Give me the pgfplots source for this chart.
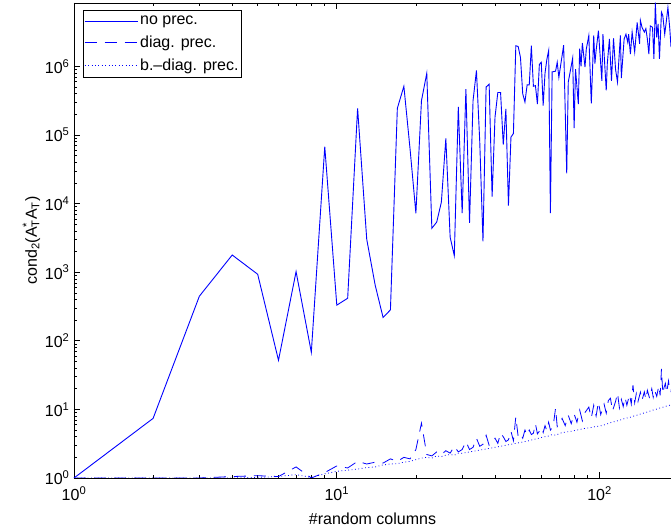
\documentclass[border=0pt]{standalone}
\usepackage{fontspec}
\setmainfont{Liberation Sans}
\usepackage{pgfplots}
\pgfplotsset{compat=1.18}
\newcommand{\fs}{\fontsize{16}{19}\selectfont}
\begin{document}
\begin{tikzpicture}
\begin{axis}[
  scale only axis, width=597pt, height=475pt,
  xmode=log, ymode=log,
  xmin=1, xmax=187, ymin=1, ymax=8.4e6,
  axis x line*=box, axis y line*=left,
  axis line style={line width=0.9pt, black},
  tick align=inside,
  major tick length=6pt, minor tick length=3pt,
  every tick/.style={black, line width=0.6pt},
  xtick={1,10,100},
  xticklabels={10\textsuperscript{0},10\textsuperscript{1},10\textsuperscript{2}},
  ytick={1,10,100,1000,10000,100000,1000000},
  yticklabels={10\textsuperscript{0},10\textsuperscript{1},10\textsuperscript{2},10\textsuperscript{3},10\textsuperscript{4},10\textsuperscript{5},10\textsuperscript{6}},
  tick label style={font=\fs},
  xticklabel style={yshift=-5pt},
  yticklabel style={xshift=-1pt},
  label style={font=\fs},
  xlabel style={yshift=-5pt},
  ylabel style={yshift=-2pt},
  xlabel={\#random columns},
  ylabel={cond\textsubscript{2}(A\rlap{\textsuperscript{*}}\textsubscript{T}A\textsubscript{T})},
  legend style={at={(0.015,0.985)}, anchor=north west, draw=black, line width=0.6pt, fill=white, font=\fs, inner xsep=1pt, inner ysep=3.5pt, row sep=6pt},
  legend cell align=left,
  legend image code/.code={\draw[#1] (10pt,0pt) -- (63pt,0pt);},
]
\addplot[blue, line width=0.9pt] coordinates {
(1,1) (2,7.4) (3,447) (4,1780) (5,933) (6,52) (7,1020) (8,68) (9,67600) (10,331)
(11,417) (12,245000) (13,3020) (14,646) (15,219) (16,282) (17,245000) (18,513000) (19,63000) (20,7240)
(21,316000) (22,794000) (23,4370) (24,5370) (25,10500) (26,89100) (27,3240) (28,1740) (29,257000) (30,7240)
(31,468000) (32,5250) (33,316000) (34,871000) (35,79400) (36,2820) (37,501000) (38,550000) (39,12600) (40,182000)
(41,417000) (42,417000) (43,72400) (44,240000) (45,9330) (46,93300) (47,105000) (48,2.0e6) (49,1.95e6) (50,1.35e6)
(51,398000) (52,302000) (53,537000) (54,537000) (55,2.0e6) (56,513000) (57,525000) (58,282000) (59,1.07e6) (60,1.15e6)
(61,269000) (62,794000) (63,1.26e6) (64,1.70e6) (65,7240) (66,832000) (68,851000) (69,1.15e6) (70,692000) (73,2.04e6)
(75,27500) (76,589000) (79,1.32e6) (80,126000) (81,912000) (83,282000) (84,1.82e6) (85,1.0e6) (86,2.19e6) (88,977000)
(89,1.78e6) (91,2.82e6) (93,288000) (95,2.82e6) (96,1.10e6) (97,1.70e6) (99,3.31e6) (102,617000) (103,2.95e6) (106,447000)
(107,1.10e6) (109,2.51e6) (111,617000) (113,2.57e6) (115,912000) (117,589000) (120,2.82e6) (121,676000) (124,2.51e6) (126,2.95e6)
(128,2.24e6) (129,2.95e6) (131,1.51e6) (133,3.16e6) (136,1.62e6) (139,4.37e6) (142,2.14e6) (143,4.68e6) (145,3.72e6) (148,3.16e6)
(150,3.55e6) (152,2.51e6) (154,1.51e6) (156,3.89e6) (159,3.72e6) (161,1.29e6) (163,8.5e6) (165,2.63e6) (167,4.17e6) (169,1.29e6)
(172,6.17e6) (174,5.50e6) (177,2.95e6) (179,4.17e6) (182,7.24e6) (185,3.55e6) (187,1.91e6) (190,4.0e6)
};
\addlegendentry{no prec.}
\addplot[blue, line width=0.8pt, dash pattern=on 12pt off 8pt] coordinates {
(1,1) (2,1) (3,1) (4,1.05) (5,1.08) (6,1.05) (7,1.45) (8,1.0) (9,1.2) (10,1.5)
(11,1.4) (12,1.75) (13,1.6) (14,1.7) (15,1.65) (16,1.9) (17,1.75) (18,2.0) (19,1.9) (20,2.6)
(21,6.3) (22,2.2) (23,2.1) (24,2.4) (25,2.2) (26,2.5) (27,2.3) (28,2.9) (29,2.4) (30,2.6)
(31,3.4) (32,2.6) (33,2.8) (34,3.8) (35,2.9) (36,3.1) (37,4.2) (38,3.0) (39,3.3) (40,3.8)
(41,3.2) (42,4.5) (43,4.0) (44,3.4) (45,3.6) (46,4.8) (47,3.5) (48,7.8) (49,4.0) (50,4.4)
(51,3.8) (52,5.0) (53,4.2) (54,5.0) (55,4.3) (56,4.5) (57,6.2) (58,4.4) (59,4.8) (60,5.4)
(61,4.6) (62,5.8) (63,4.9) (64,6.5) (65,5.0) (66,5.4) (67,6.8) (68,10.4) (69,5.6) (70,6.0)
(72,7.4) (74,5.8) (76,8.2) (78,6.2) (80,8.6) (82,6.5) (84,9.8) (86,6.8) (88,9.0) (91,10.8)
(93,7.5) (95,11.5) (97,8.0) (99,12.8) (101,8.4) (104,12.0) (106,8.8) (108,13.5) (110,14.5) (112,9.5)
(115,13.0) (117,17.3) (119,10.5) (121,14.0) (123,11.0) (125,15.0) (127,11.5) (130,16.5) (132,12.0) (134,22.5)
(136,12.5) (138,17.0) (140,13.0) (143,17.8) (145,13.5) (148,18.0) (150,14.0) (152,19.0) (155,14.5) (158,20.0)
(160,15.0) (162,19.0) (165,15.5) (168,22.0) (170,16.0) (172,39.0) (174,17.0) (176,21.0) (178,24.0) (180,17.5)
(183,26.0) (185,18.0) (187,18.0) (190,28.0)
};
\addlegendentry{diag. prec.}
\addplot[blue, line width=0.8pt, dash pattern=on 0.8pt off 2.6pt] coordinates {
(1,1) (2,1) (3,1) (4,1) (5,1.02) (6,1.05) (7,1.12) (8,1.02) (9,1.15) (10,1.25)
(11,1.3) (12,1.35) (13,1.42) (14,1.45) (15,1.55) (16,1.6) (17,1.62) (18,1.7) (19,1.75) (20,1.85)
(21,1.95) (22,2.0) (23,1.95) (24,2.1) (25,2.05) (26,2.15) (27,2.2) (28,2.15) (29,2.3) (30,2.3)
(32,2.4) (34,2.5) (36,2.6) (38,2.7) (40,2.8) (42,2.9) (44,3.0) (46,3.1) (48,3.2) (50,3.3)
(52,3.4) (54,3.5) (56,3.65) (58,3.75) (60,3.9) (62,4.0) (64,4.1) (66,4.3) (68,4.2) (70,4.4)
(72,4.6) (75,4.7) (78,4.8) (80,4.9) (84,5.1) (88,5.3) (92,5.4) (96,5.6) (100,5.7) (105,6.0)
(110,6.4) (115,6.7) (120,7.0) (125,7.4) (130,7.6) (135,8.0) (140,8.3) (145,8.7) (150,9.0) (155,9.4)
(160,9.8) (165,10.1) (170,10.5) (175,10.8) (180,11.2) (185,11.5) (190,12.0)
};
\addlegendentry{b.--diag. prec.}
\end{axis}
\pgfresetboundingbox
\path[use as bounding box] ([xshift=-74pt,yshift=-51pt]current axis.south west) rectangle ([yshift=3pt]current axis.north east);
\end{tikzpicture}
\end{document}
